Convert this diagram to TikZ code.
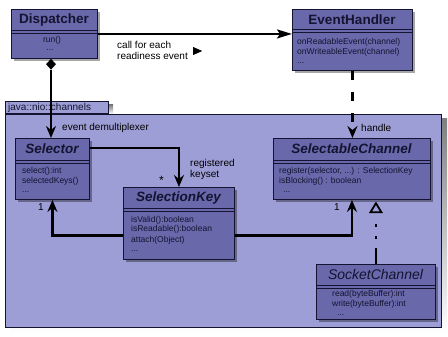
\documentclass[tikz,border=0pt]{standalone}
\usepackage{fontspec}
\setmainfont{Liberation Sans}
\usetikzlibrary{arrows.meta,calc,shapes.geometric,shadows}
\definecolor{boxfill}{RGB}{104,104,170}
\definecolor{packfill}{RGB}{158,158,214}
\definecolor{ink}{RGB}{20,20,50}
\definecolor{shade}{RGB}{128,128,128}
\begin{document}
\begin{tikzpicture}[x=1pt,y=-1pt,
  classbox/.style={draw=ink, fill=boxfill, line width=0.9pt, inner sep=0pt, anchor=north west,
    drop shadow={shadow xshift=2.5pt, shadow yshift=-2.5pt, fill=black, opacity=0.35}},
  ttl/.style={font=\fontsize{13.5}{13.5}\selectfont\bfseries, text=ink, inner sep=0pt},
  ittl/.style={font=\fontsize{13.5}{13.5}\selectfont\bfseries\itshape, text=ink, inner sep=0pt},
  lttl/.style={font=\fontsize{14}{14}\selectfont\itshape, text=ink, inner sep=0pt},
  mth/.style={font=\fontsize{8.5}{8.5}\selectfont, text=ink, inner sep=0pt, anchor=west,
    text height=5.5pt, text depth=1pt},
  divl/.style={draw=ink, line width=0.8pt},
  conn/.style={line width=2.4pt, -{Stealth[length=12pt,width=10pt,inset=4pt]}},
  lbl/.style={font=\fontsize{10}{10}\selectfont, text=black, inner sep=0pt, anchor=west},
  pkgbox/.style={draw=ink, fill=packfill, line width=0.8pt, inner sep=0pt},
]
\useasboundingbox (0,0) rectangle (448,337);

% package
\fill[shade] (10,105) rectangle (113,114);
\fill[shade] (10,119) rectangle (447,333);
\node[pkgbox, anchor=north west, minimum width=436pt, minimum height=213pt] (pkg) at (5,114) {};
\node[pkgbox, anchor=south west, minimum width=103pt, minimum height=12pt] (tab) at (5,114) {};
\node[font=\fontsize{10}{10}\selectfont, text=ink, anchor=west, inner sep=0pt] (pkgname) at (8,108) {java::nio::channels};

% Dispatcher
\node[classbox, minimum width=86pt, minimum height=49pt] (disp) at (11,9) {};
\node[ttl] (dispT) at (54,20) {Dispatcher};
\draw[divl] (11,30) -- (97,30) (11,33) -- (97,33);
\node[mth, anchor=center] (dispM1) at (52,40.5) {run()};
\node[mth, anchor=center] (dispM2) at (50,48) {...};

% EventHandler
\node[classbox, minimum width=120pt, minimum height=61pt] (evh) at (292,9) {};
\node[ttl] (evhT) at (352,20) {EventHandler};
\draw[divl] (292,29) -- (412,29) (292,32) -- (412,32);
\node[mth] (evhM1) at (297,42) {onReadableEvent(channel)};
\node[mth] (evhM2) at (297,52) {onWriteableEvent(channel)};
\node[mth] (evhM3) at (297,61) {...};

% Selector
\node[classbox, minimum width=74pt, minimum height=61pt] (sel) at (15,138) {};
\node[ittl] (selT) at (52,149) {Selector};
\draw[divl] (15,160) -- (89,160) (15,163) -- (89,163);
\node[mth] (selM1) at (22,171) {select():int};
\node[mth] (selM2) at (22,181) {selectedKeys()};
\node[mth] (selM3) at (22,190) {...};

% SelectionKey
\node[classbox, minimum width=111pt, minimum height=72pt] (sk) at (123,187) {};
\node[ittl] (skT) at (178.5,198) {SelectionKey};
\draw[divl] (123,208) -- (234,208) (123,211) -- (234,211);
\node[mth] (skM1) at (131,220) {isValid():boolean};
\node[mth] (skM2) at (131,229.5) {isReadable():boolean};
\node[mth] (skM3) at (131,240) {attach(Object)};
\node[mth] (skM4) at (131,249) {...};

% SelectableChannel
\node[classbox, minimum width=157pt, minimum height=61pt] (sc) at (273,138) {};
\node[ittl] (scT) at (351.5,149) {SelectableChannel};
\draw[divl] (273,160) -- (430,160) (273,163) -- (430,163);
\node[mth] (scM1) at (279,171) {register(selector, ...) : SelectionKey};
\node[mth] (scM2) at (279,181) {isBlocking() : boolean};
\node[mth] (scM3) at (283,190) {...};

% SocketChannel
\node[classbox, minimum width=119pt, minimum height=55pt] (sock) at (316,264) {};
\node[lttl] (sockT) at (375.5,274) {SocketChannel};
\draw[divl] (316,285) -- (435,285) (316,288) -- (435,288);
\node[mth] (sockM1) at (332,294.5) {read(byteBuffer):int};
\node[mth] (sockM2) at (332,304) {write(byteBuffer):int};
\node[mth] (sockM3) at (337,313) {...};

% connectors
\draw[line width=2.2pt, -{Stealth[length=15pt,width=9pt,inset=3pt]}] (disp.east) -- (disp.east -| evh.west);
\node[diamond, fill=black, minimum width=10pt, minimum height=11pt, inner sep=0pt, anchor=north] (dia) at (51,58.5) {};
\draw[conn] (dia.south) -- (dia.south |- sel.north);
\draw[conn] ($(sel.north east)+(0,10)$) -| (sk.north);
\draw[conn] ($(sk.west)+(0,12)$) -| (sel.south);
\draw[conn] ($(sk.east)+(0,12)$) -| (sc.south);
\draw[conn, dash pattern=on 9pt off 12pt] (evh.south) -- (evh.south |- sc.north);
\node[isosceles triangle, isosceles triangle stretches, shape border rotate=90, draw=black, fill=packfill,
  line width=1.8pt, minimum width=11pt, minimum height=9pt, inner sep=0pt, anchor=apex] (inh) at ($(sc.south -| sock.north)+(0,1)$) {};
\draw[line width=2.4pt, dash pattern=on 16pt off 9pt on 3pt off 9pt on 3pt off 40pt] (sock.north) -- (inh.lower side);

% labels
\node[lbl] (callA) at (117,44.5) {call for each};
\node[lbl] (callB) at (117,56) {readiness event};
\node[isosceles triangle, isosceles triangle stretches, fill=black, minimum width=8pt, minimum height=9pt, inner sep=0pt, anchor=west] (dirtri) at (193,51) {};
\node[lbl] (evdem) at (62,128) {event demultiplexer};
\node[lbl] (reg1) at (190,164) {registered};
\node[lbl] (reg2) at (190,175) {keyset};
\node[lbl, font=\fontsize{12}{12}\selectfont] (star) at (159,180) {*};
\node[lbl] (one1) at (38,207) {1};
\node[lbl] (one2) at (334,207) {1};
\node[lbl] (hdl) at (361,128) {handle};
\end{tikzpicture}
\end{document}
